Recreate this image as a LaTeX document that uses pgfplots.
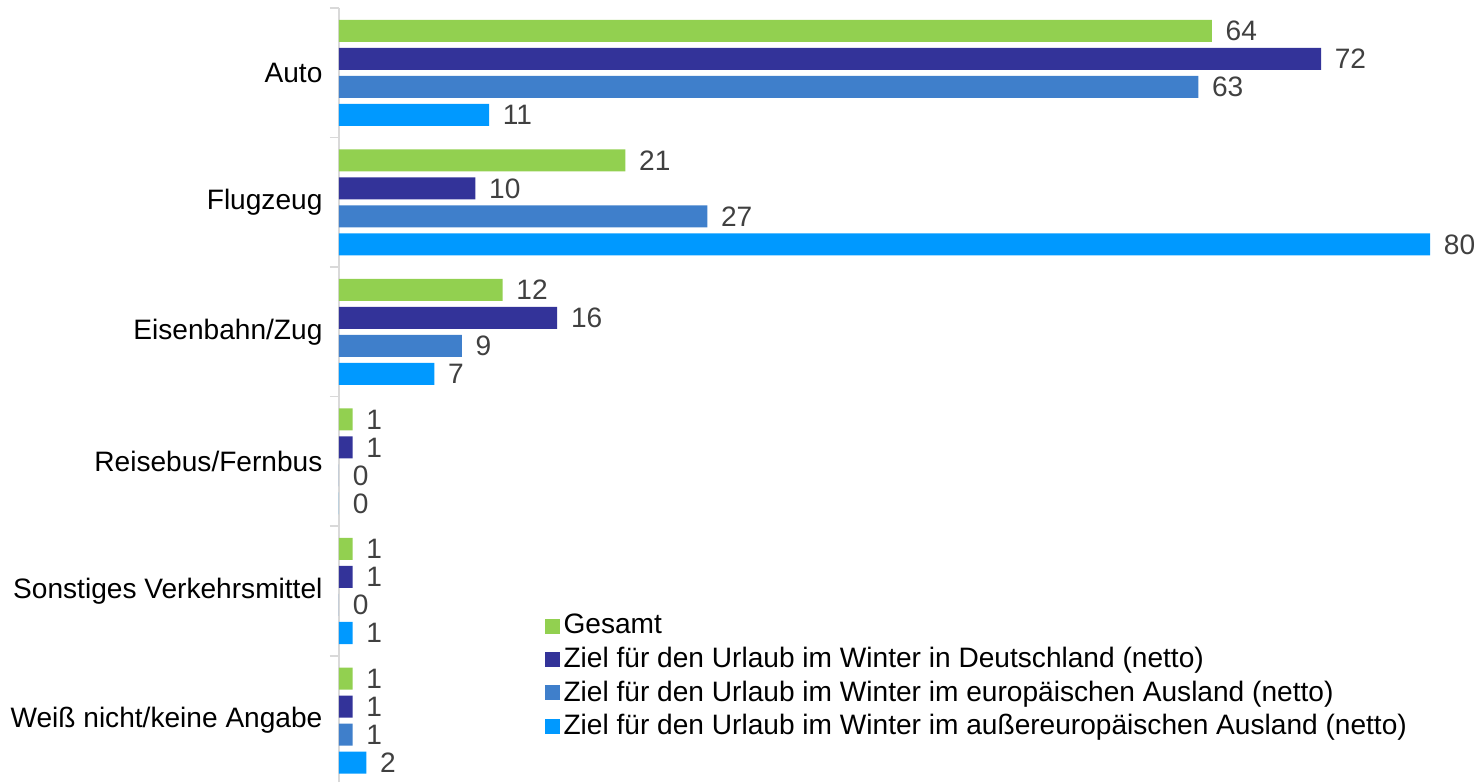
\documentclass[border=0pt]{standalone}
\usepackage{pgfplots}
\pgfplotsset{compat=1.18}
\usepackage{fontspec}
\setmainfont{Liberation Sans}
\definecolor{cGes}{HTML}{92D050}
\definecolor{cDE}{HTML}{333399}
\definecolor{cEU}{HTML}{3F7FCB}
\definecolor{cWelt}{HTML}{0099FF}
\definecolor{axgray}{HTML}{D9D9D9}
\newcommand{\chartfont}{\fontsize{14.05pt}{16.2pt}\selectfont}
\begin{document}
\chartfont
\begin{tikzpicture}
\useasboundingbox (-169.5pt,-30.75pt) rectangle (569pt,360.25pt);
\begin{axis}[
  anchor=origin, at={(0pt,0pt)},
  x=6.82pt, y=64.75pt,
  xmin=0, xmax=80, ymin=-0.475, ymax=5.5,
  xbar, bar width=11pt,
  clip=false,
  axis x line=none,
  axis y line*=left,
  y axis line style={draw=axgray, line width=1pt, -},
  ytick={0,...,5},
  yticklabels={Weiß nicht/keine Angabe, Sonstiges Verkehrsmittel, Reisebus/Fernbus, Eisenbahn/Zug, Flugzeug, Auto},
  yticklabel style={font=\chartfont, text=black, xshift=-3.4pt},
  major tick length=0pt,
  minor ytick={-0.5,0.5,...,5.5},
  minor tick length=4.5pt,
  tick align=outside,
  major tick style={draw=none},
  minor tick style={draw=axgray, line width=0.75pt},
  /pgf/number format/assume math mode=true,
  nodes near coords,
  every node near coord/.append style={font=\chartfont, text=black!75, anchor=west, xshift=2pt},
  legend style={at={(0.188,0.2225)}, anchor=north west, draw=none, fill=none, inner sep=0pt,
    font=\chartfont, row sep=0.5pt},
  legend cell align=left,
  legend image code/.code={\fill[#1] (0pt,-3.75pt) rectangle (7.5pt,3.75pt);},
]
\addplot[fill=cGes, draw=none, bar shift=21pt] coordinates {(64,5) (21,4) (12,3) (1,2) (1,1) (1,0)};
\addplot[fill=cDE, draw=none, bar shift=7pt] coordinates {(72,5) (10,4) (16,3) (1,2) (1,1) (1,0)};
\addplot[fill=cEU, draw=none, bar shift=-7pt] coordinates {(63,5) (27,4) (9,3) (0,2) (0,1) (1,0)};
\addplot[fill=cWelt, draw=none, bar shift=-21pt] coordinates {(11,5) (80,4) (7,3) (0,2) (1,1) (2,0)};
\legend{Gesamt, Ziel für den Urlaub im Winter in Deutschland (netto), Ziel für den Urlaub im Winter im europäischen Ausland (netto), Ziel für den Urlaub im Winter im außereuropäischen Ausland (netto)}
\end{axis}
\end{tikzpicture}
\end{document}
